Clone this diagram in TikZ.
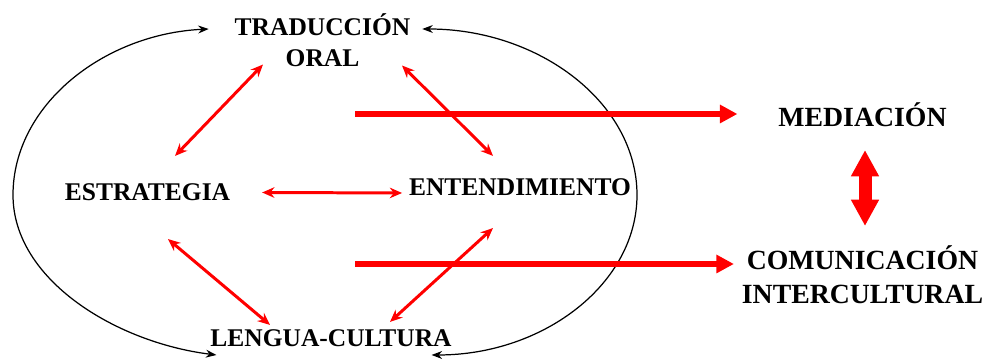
\documentclass[tikz,border=0pt]{standalone}
\usepackage{fontspec}
\setmainfont{Liberation Serif}
\usepackage{tikz}
\usetikzlibrary{arrows, arrows.meta, positioning, calc}

\begin{document}
\begin{tikzpicture}[
    concept/.style={inner sep=0pt, outer sep=0pt, align=center, font=\fontsize{14.5}{17.6}\selectfont\bfseries},
    result/.style={inner sep=0pt, outer sep=0pt, align=center, font=\fontsize{15.8}{19.3}\selectfont\bfseries},
    link/.style={{Stealth[length=7pt,width=6pt]}-{Stealth[length=7pt,width=6pt]}, red, line width=1.7pt},
    around/.style={{Stealth[length=6pt,width=4.5pt]}-{Stealth[length=6pt,width=4.5pt]}, line width=0.7pt},
    flow/.style={-{Triangle[length=10pt,width=10pt]}, red, line width=2.9pt},
    mutual/.style={{Triangle[length=15pt,width=15pt]}-{Triangle[length=15pt,width=15pt]}, red, line width=7.4pt}
]
    \useasboundingbox (0,0) rectangle (19.66,7.2);

    % Concepts
    \node[concept] (trad) at (6.45, 6.40) {TRADUCCIÓN\\ORAL};
    \node[concept] (estr) at (2.95, 3.35) {ESTRATEGIA};
    \node[concept] (ent) at (10.40, 3.45) {ENTENDIMIENTO};
    \node[concept] (leng) at (6.62, 0.43) {LENGUA-CULTURA};

    % Results
    \node[result] (med) at (17.25, 4.90) {MEDIACIÓN};
    \node[result] (com) at (17.25, 1.70) {COMUNICACIÓN\\INTERCULTURAL};

    % Cycle round the concepts
    \coordinate (tl) at ([shift={(-0.52,0.22)}]trad.west);
    \coordinate (tr) at ([shift={(0.24,0.22)}]trad.east);
    \coordinate (bl) at ([shift={(0.12,-0.33)}]leng.west);
    \coordinate (br) at ([shift={(-0.40,-0.33)}]leng.east);
    \coordinate (lx) at (0.26, 3.30);
    \coordinate (rx) at (12.74, 3.30);
    \draw[around] (tl) .. controls +(-2.1,-0.1) and +(0,1.8) .. (lx)
        .. controls +(0,-1.7) and +(-2.0,0.25) .. (bl);
    \draw[around] (tr) .. controls +(2.34,0) and +(0,1.84) .. (rx)
        .. controls +(0,-1.76) and +(2.26,0) .. (br);

    % Links between concepts
    \draw[link] ([shift={(-1.19,0.04)}]trad.south) -- ([shift={(0.55,0.56)}]estr.north);
    \draw[link] ([shift={(1.59,0.02)}]trad.south) -- ([shift={(-0.54,0.46)}]ent.north);
    \draw[link] ([xshift=0.64cm]estr.east) -- ([shift={(-0.14,-0.11)}]ent.west);
    \draw[link] ([shift={(0.41,-0.76)}]estr.south) -- ([shift={(-1.22,0.1)}]leng.north);
    \draw[link] ([shift={(-0.54,-0.64)}]ent.south) -- ([shift={(1.18,0.16)}]leng.north);

    % Flows to results
    \coordinate (m1) at (7.10, 4.92);
    \coordinate (c1) at (7.10, 1.92);
    \draw[flow] (m1) -- ([xshift=-0.82cm]m1 -| med.west);
    \draw[flow] (c1) -- ([xshift=-0.16cm]c1 -| com.west);
    \draw[mutual] ([shift={(0.05,-0.46)}]med.south) -- ([shift={(0.05,0.4)}]com.north);
\end{tikzpicture}
\end{document}
